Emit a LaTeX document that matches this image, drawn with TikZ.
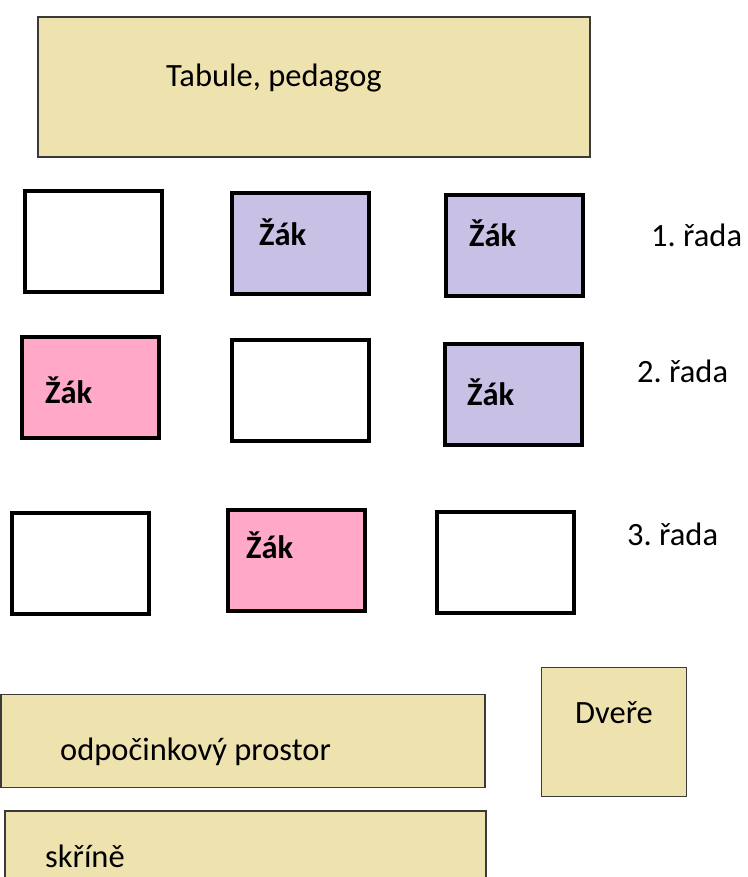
\documentclass[tikz,border=0pt]{standalone}
\usepackage{fontspec}
\setmainfont{Carlito}
\usepackage{tikz}
\definecolor{piskova}{HTML}{EEE3AF}
\definecolor{fialova}{HTML}{C9C0E5}
\definecolor{ruzova}{HTML}{FFA8C8}
\definecolor{okraj}{HTML}{3A3A3A}
\frenchspacing

\begin{document}
\begin{tikzpicture}[x=1pt, y=-1pt,
  mebl/.style={draw=okraj, line width=1.8pt, fill=piskova, rectangle, inner sep=0pt},
  lavice/.style={draw=black, line width=4pt, fill=white, rectangle, inner sep=0pt,
    minimum width=137pt, minimum height=101pt},
  popis/.style={inner sep=0pt, anchor=base west, font=\fontsize{32.5}{39}\selectfont},
  zak/.style={popis, font=\fontsize{32.5}{39}\selectfont\bfseries}]

\useasboundingbox (0, 0) rectangle (747, 877);

% tabule
\node[mebl, minimum width=552pt, minimum height=140pt] (tabule) at (314, 87) {};
\node[popis] (ttabule) at (166, 87) {Tabule, pedagog};

% 1. rada
\node[lavice] (r1a) at (93.5, 241.5) {};
\node[lavice, fill=fialova] (r1b) at (300.5, 243.5) {};
\node[lavice, fill=fialova] (r1c) at (514, 245.5) {};
\node[zak] (z1b) at (259, 245) {Žák};
\node[zak] (z1c) at (469, 246) {Žák};
\node[popis] (rada1) at (651, 246) {1. řada};

% 2. rada
\node[lavice, fill=ruzova] (r2a) at (90.5, 387) {};
\node[lavice] (r2b) at (300.5, 390) {};
\node[lavice, fill=fialova] (r2c) at (513.5, 394.5) {};
\node[zak] (z2a) at (45, 403) {Žák};
\node[zak] (z2c) at (467, 405) {Žák};
\node[popis] (rada2) at (637, 382) {2. řada};

% 3. rada
\node[lavice] (r3a) at (80.5, 563.5) {};
\node[lavice, fill=ruzova] (r3b) at (296, 560) {};
\node[lavice] (r3c) at (505.5, 562.5) {};
\node[zak] (z3b) at (246, 558) {Žák};
\node[popis] (rada3) at (627, 545) {3. řada};

% dole
\node[mebl, minimum width=484pt, minimum height=93pt] (odpocinek) at (243, 741) {};
\node[popis] (todpocinek) at (60, 760) {odpočinkový prostor};
\node[mebl, minimum width=145pt, minimum height=129pt] (dvere) at (614, 732) {};
\node[popis] (tdvere) at (575, 723) {Dveře};
\node[mebl, minimum width=481pt, minimum height=120pt] (skrine) at (245.5, 871) {};
\node[popis] (tskrine) at (45, 867) {skříně};

\end{tikzpicture}
\end{document}
